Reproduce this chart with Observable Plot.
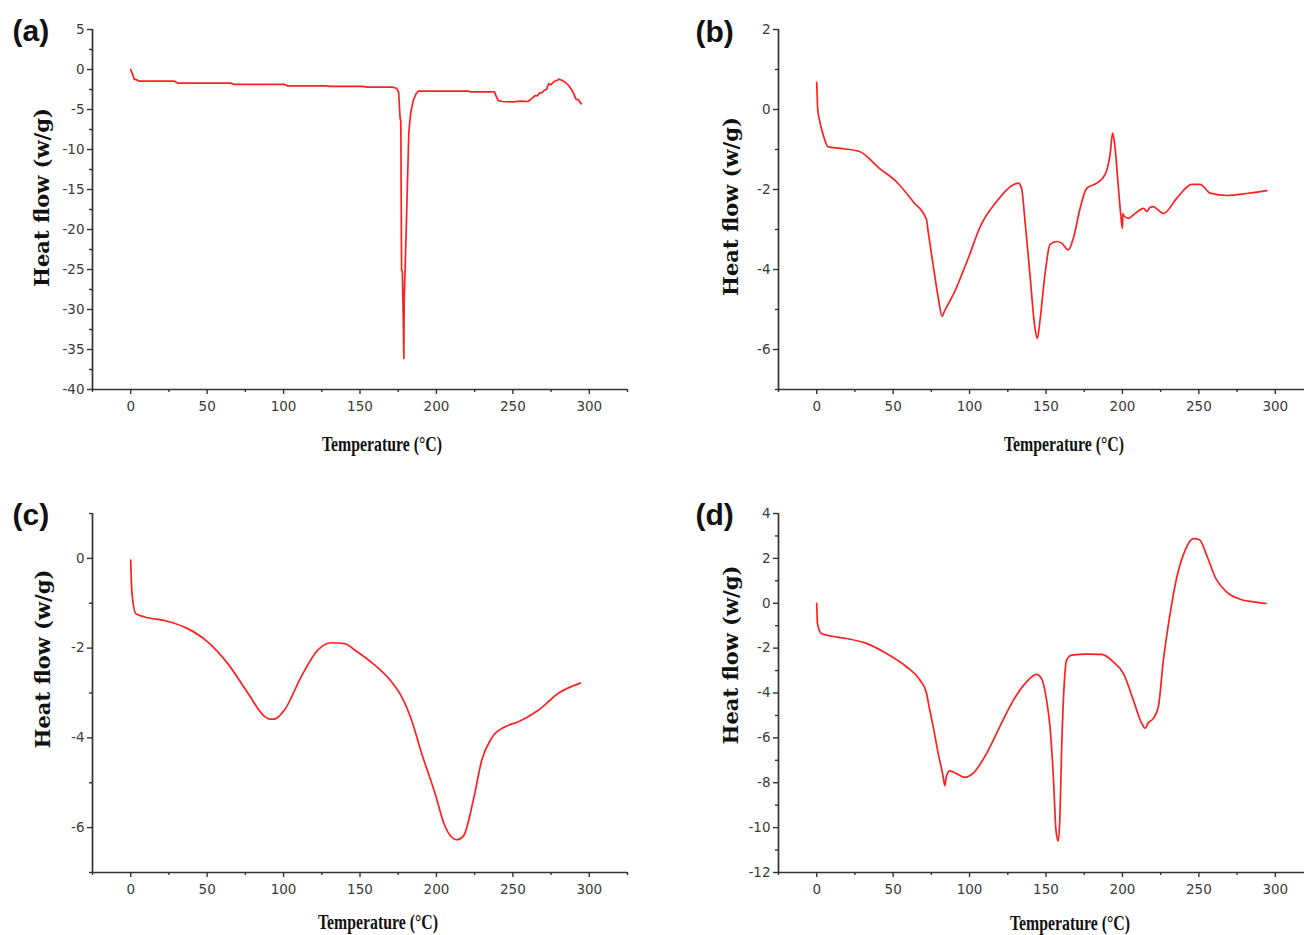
<!DOCTYPE html>
<html><head><meta charset="utf-8">
<script src="https://cdn.jsdelivr.net/npm/d3@7"></script>
<script src="https://cdn.jsdelivr.net/npm/@observablehq/plot@0.6"></script>
<style>
html,body{margin:0;padding:0;background:#fff;overflow:hidden}
#wrap{position:relative;width:1304px;height:935px;overflow:hidden;background:#fff}
.panel{position:absolute}
.panel svg{max-width:none !important}
</style></head><body><div id="wrap"></div>
<script>
// Shared x axis
const xTicks = [0, 50, 100, 150, 200, 250, 300];
const xMinor = [-25, 25, 75, 125, 175, 225, 275, 325];
const xLabel = "Temperature (°C)";
const yLabel = "Heat flow (w/g)";

// Panel (a)
const aT = [0, 1, 2.2, 5.4, 28.4, 30.6, 65.6, 67.7, 100.6, 102.8, 128, 130, 152, 154.2, 171, 174, 175.3, 176.2, 176.7, 177.2, 177.7, 178.2, 178.7, 178.9, 180.4, 181.1, 181.9, 183.1, 184.8, 186.5, 188.1, 190, 221, 222, 238, 239, 240.5, 243, 250, 256, 260, 262.5, 264.6, 266, 267.5, 269, 270.5, 272, 273.4, 275, 277, 279, 280, 282, 284.3, 286.5, 288.7, 290, 291.3, 293, 294.8];
const aV = [0, -0.5, -1.17, -1.45, -1.45, -1.7, -1.7, -1.87, -1.87, -2.05, -2.05, -2.1, -2.1, -2.2, -2.2, -2.35, -2.9, -6.0, -6.5, -25, -25.3, -30, -36.1, -28.9, -18.9, -13.9, -8.0, -5.5, -3.9, -3.1, -2.7, -2.7, -2.7, -2.8, -2.8, -3.3, -3.9, -4.0, -4.05, -3.95, -4.0, -3.6, -3.25, -3.3, -2.95, -2.9, -2.6, -2.5, -1.8, -1.9, -1.5, -1.35, -1.2, -1.35, -1.6, -2.0, -2.6, -3.1, -3.7, -3.8, -4.3];
const aYTicks = [5, 0, -5, -10, -15, -20, -25, -30, -35, -40];
const aYMinor = [2.5, -2.5, -7.5, -12.5, -17.5, -22.5, -27.5, -32.5, -37.5];

// Panel (b)
const bT = [0, 0.3, 0.6, 2, 4.2, 7.4, 15, 28, 41, 52, 63, 71.8, 72.9, 76.2, 79.5, 82, 83.5, 89.3, 100, 106.7, 117.7, 128.6, 131.9, 134, 136.3, 139.5, 142.8, 144.4, 146, 149.3, 152.6, 157, 160.2, 164.6, 167.9, 172.3, 176.6, 183.2, 188.6, 191.9, 193.6, 195.2, 197.4, 198.9, 200, 200.3, 200.8, 204, 207.3, 210, 213.8, 216, 218, 220.3, 223, 226.8, 235.5, 245.4, 250.8, 257.4, 268.3, 281.4, 294.5];
const bV = [0.68, 0.35, 0.03, -0.3, -0.63, -0.93, -0.97, -1.05, -1.47, -1.8, -2.3, -2.75, -3.05, -3.9, -4.7, -5.17, -5.05, -4.63, -3.63, -2.95, -2.3, -1.88, -1.84, -1.97, -2.8, -4.13, -5.47, -5.72, -5.3, -4.13, -3.38, -3.3, -3.34, -3.51, -3.22, -2.47, -1.97, -1.84, -1.63, -1.13, -0.59, -0.97, -1.97, -2.63, -2.97, -2.6, -2.65, -2.72, -2.63, -2.55, -2.47, -2.55, -2.45, -2.43, -2.5, -2.6, -2.22, -1.87, -1.87, -2.09, -2.15, -2.1, -2.03];
const bYTicks = [2, 0, -2, -4, -6];
const bYMinor = [1, -1, -3, -5, -7];

// Panel (c)
const cT = [0, 0.7, 3.3, 8.7, 24, 37, 50.3, 63.4, 76.6, 87.5, 91, 94, 100.6, 111.5, 122.5, 131.2, 140, 146.5, 159.7, 170.6, 177.2, 183.7, 190.3, 199, 205.6, 213.3, 217.6, 224.2, 229.7, 236.2, 245, 253.7, 266.9, 280, 294.2];
const cV = [-0.04, -0.71, -1.23, -1.3, -1.4, -1.56, -1.86, -2.34, -3.0, -3.52, -3.58, -3.58, -3.38, -2.64, -2.04, -1.88, -1.9, -2.04, -2.38, -2.75, -3.08, -3.6, -4.34, -5.23, -5.97, -6.27, -6.19, -5.38, -4.49, -4.0, -3.75, -3.64, -3.38, -3.0, -2.78];
const cYTicks = [0, -2, -4, -6];
const cYMinor = [1, -1, -3, -5, -7];

// Panel (d)
const dT = [0, 0.5, 3, 8.5, 19.5, 32.5, 45.6, 58.7, 67.5, 71.8, 73.5, 76.2, 79.5, 82.7, 83.8, 84.9, 87.1, 91.5, 97, 102.4, 111.1, 119.8, 128.6, 137.3, 143.9, 147.1, 150.4, 152.6, 154.8, 156.5, 158, 159.1, 160.2, 161.8, 163.5, 166.8, 176.6, 186.4, 194, 200.6, 207.2, 212.6, 214.8, 217, 220.3, 223.5, 226.8, 231.2, 235.6, 241, 246.4, 250.4, 255.2, 260.6, 268.3, 277, 285.7, 294];
const dV = [-0.01, -0.9, -1.35, -1.45, -1.57, -1.79, -2.24, -2.83, -3.42, -4.0, -4.6, -5.5, -6.7, -7.72, -8.13, -7.7, -7.47, -7.6, -7.76, -7.57, -6.7, -5.5, -4.33, -3.5, -3.17, -3.36, -4.33, -5.5, -7.72, -10.1, -10.6, -9.5, -6.55, -3.74, -2.53, -2.31, -2.27, -2.28, -2.61, -3.13, -4.33, -5.35, -5.57, -5.32, -5.13, -4.61, -2.53, -0.46, 1.17, 2.36, 2.88, 2.83, 2.13, 1.17, 0.5, 0.18, 0.06, -0.01];
const dYTicks = [4, 2, 0, -2, -4, -6, -8, -10, -12];
const dYMinor = [3, 1, -1, -3, -5, -7, -9, -11];

const panels = [
  {tag: "(a)", T: aT, V: aV, yDomain: [-40, 5], yTicks: aYTicks, yMinor: aYMinor, curve: "linear",
   left: 0, top: 0, width: 652, height: 470, ml: 92, mr: 25, mt: 29, mb: 81,
   tagDx: -80, tagDy: 2, ylDx: -50, ylDy: -12, xlDx: 22, xlDy: 54},
  {tag: "(b)", T: bT, V: bV, yDomain: [-7, 2], yTicks: bYTicks, yMinor: bYMinor, curve: "monotone-x",
   left: 652, top: 0, width: 690, height: 470, ml: 126, mr: 29, mt: 29, mb: 81,
   tagDx: -83, tagDy: 3, ylDx: -47, ylDy: -3, xlDx: 18, xlDy: 54},
  {tag: "(c)", T: cT, V: cV, yDomain: [-7, 1], yTicks: cYTicks, yMinor: cYMinor, curve: "monotone-x",
   left: 0, top: 484, width: 652, height: 451, ml: 92, mr: 25, mt: 29, mb: 63,
   tagDx: -80, tagDy: 2, ylDx: -49, ylDy: -34, xlDx: 18, xlDy: 49},
  {tag: "(d)", T: dT, V: dV, yDomain: [-12, 4], yTicks: dYTicks, yMinor: dYMinor, curve: "monotone-x",
   left: 652, top: 484, width: 690, height: 451, ml: 126, mr: 29, mt: 29, mb: 63,
   tagDx: -83, tagDy: 2, ylDx: -47, ylDy: -38, xlDx: 24, xlDy: 50}
];

const wrap = document.getElementById("wrap");
const fmt = d => String(d);

for (const p of panels) {
  const data = p.T.map((t, i) => ({t, v: p.V[i]}));
  const svg = Plot.plot({
    width: p.width, height: p.height,
    marginLeft: p.ml, marginRight: p.mr, marginTop: p.mt, marginBottom: p.mb,
    style: {background: "transparent", fontFamily: "DejaVu Sans", fontSize: "13.5px", color: "#3a3a3a", overflow: "visible", maxWidth: "none"},
    x: {domain: [-25, 325]},
    y: {domain: p.yDomain},
    marks: [
      Plot.axisX({ticks: xMinor, tickSize: 3, fill: "none", stroke: "#333", strokeWidth: 1.4, label: null}),
      Plot.axisX({ticks: xTicks, tickSize: 5, tickPadding: 7, stroke: "#333", strokeWidth: 1.4, fill: "#3a3a3a", tickFormat: fmt, label: null}),
      Plot.axisY({ticks: p.yMinor, tickSize: 3, fill: "none", stroke: "#333", strokeWidth: 1.4, label: null}),
      Plot.axisY({ticks: p.yTicks, tickSize: 5, tickPadding: 3, stroke: "#333", strokeWidth: 1.4, fill: "#3a3a3a", tickFormat: fmt, label: null}),
      Plot.ruleX([-25], {stroke: "#333", strokeWidth: 1.7}),
      Plot.ruleY([p.yDomain[0]], {stroke: "#333", strokeWidth: 1.7}),
      Plot.line(data, {x: "t", y: "v", stroke: "#ff1f1f", strokeWidth: 1.7, curve: p.curve}),
      Plot.text([p.tag], {frameAnchor: "top-left", dx: p.tagDx, dy: p.tagDy, textAnchor: "start", lineAnchor: "middle",
        fontSize: 30, fontWeight: "bold", fontFamily: "Liberation Sans", fill: "#111"}),
      Plot.text([yLabel], {frameAnchor: "left", rotate: -90, dx: p.ylDx, dy: p.ylDy, textAnchor: "middle", lineAnchor: "middle",
        fontSize: 21, fontWeight: "bold", fontFamily: "DejaVu Serif", fill: "#111"}),
      Plot.text([xLabel], {frameAnchor: "bottom", dx: p.xlDx, dy: p.xlDy, textAnchor: "middle", lineAnchor: "middle",
        fontSize: 22, fontWeight: "bold", fontFamily: "Liberation Serif", fill: "#111"})
    ]
  });
  svg.style.maxWidth = "none";
  svg.querySelectorAll("text").forEach(t => {
    if (t.textContent === xLabel) { t.setAttribute("textLength", "120"); t.setAttribute("lengthAdjust", "spacingAndGlyphs"); }
  });
  const div = document.createElement("div");
  div.className = "panel";
  div.style.left = p.left + "px";
  div.style.top = p.top + "px";
  div.style.width = p.width + "px";
  div.appendChild(svg);
  wrap.appendChild(div);
}
</script></body></html>
